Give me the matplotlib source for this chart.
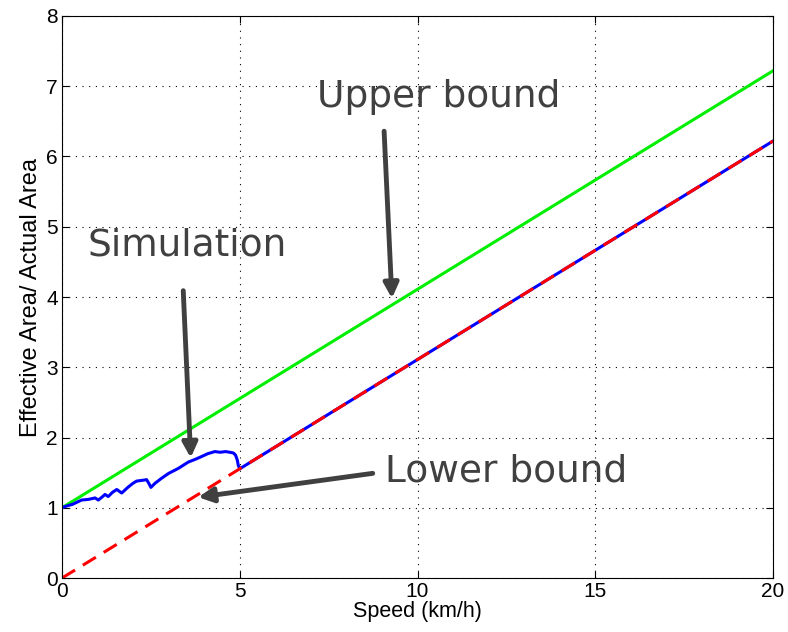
import matplotlib.pyplot as plt

# bounds
speed = [0, 20]
upper = [1.0, 7.22]
lower = [0.0, 6.22]

# simulation curve
sim_speed = [0.0, 0.1, 0.3, 0.55, 0.75, 0.93, 1.02, 1.12, 1.21, 1.30, 1.42, 1.54, 1.68,
             1.85, 2.0, 2.10, 2.25, 2.38, 2.45, 2.50, 2.62, 2.80, 3.0, 3.27, 3.55,
             3.75, 3.93, 4.1, 4.30, 4.45, 4.6, 4.72, 4.82, 4.88, 4.93, 4.96, 5.0,
             10.0, 15.0, 20.0]
sim_ratio = [1.0, 1.02, 1.05, 1.11, 1.12, 1.14, 1.11, 1.15, 1.19, 1.16, 1.22, 1.26, 1.21,
             1.29, 1.35, 1.38, 1.39, 1.40, 1.34, 1.29, 1.35, 1.42, 1.49, 1.56, 1.65,
             1.69, 1.73, 1.77, 1.80, 1.79, 1.80, 1.79, 1.78, 1.75, 1.68, 1.60, 1.555,
             3.11, 4.665, 6.22]

plt.rcParams['font.family'] = ['Liberation Sans', 'DejaVu Sans']
fig = plt.figure(figsize=(7.88, 6.32), dpi=100)
ax = fig.add_axes([0.0787, 0.0854, 0.9023, 0.8893])

ax.plot(speed, upper, color='#00ee00', lw=2.2)
ax.plot(sim_speed, sim_ratio, color='#0000ff', lw=2.2)
ax.plot(speed, lower, color='#ff0000', lw=2.2, linestyle=(0, (5, 3)))

ax.set_xlim(0, 20)
ax.set_ylim(0, 8)
ax.set_xticks([0, 5, 10, 15, 20])
ax.set_yticks(range(9))
ax.grid(True, color='black', linestyle=(0, (1, 5)), lw=0.8)
ax.tick_params(direction='in', top=True, right=True, labelsize=15, length=5, pad=3)
ax.set_xlabel('Speed (km/h)', fontsize=15.5, labelpad=0)
ax.set_ylabel('Effective Area/ Actual Area', fontsize=17, labelpad=3)

note = dict(fontsize=27, color='#404040', family='DejaVu Sans', ha='left', va='center')
arrow = dict(arrowstyle='-|>', lw=3.5, color='#404040', mutation_scale=22, shrinkA=0, shrinkB=0)
ax.text(7.17, 6.85, 'Upper bound', **note)
ax.text(0.73, 4.73, 'Simulation', **note)
ax.text(9.09, 1.51, 'Lower bound', **note)
ax.annotate('', xy=(9.28, 3.98), xytext=(9.06, 6.36), arrowprops=arrow)
ax.annotate('', xy=(3.62, 1.71), xytext=(3.41, 4.09), arrowprops=arrow)
ax.annotate('', xy=(3.83, 1.15), xytext=(8.74, 1.49), arrowprops=arrow)

fig.savefig('out.png', dpi=100)
